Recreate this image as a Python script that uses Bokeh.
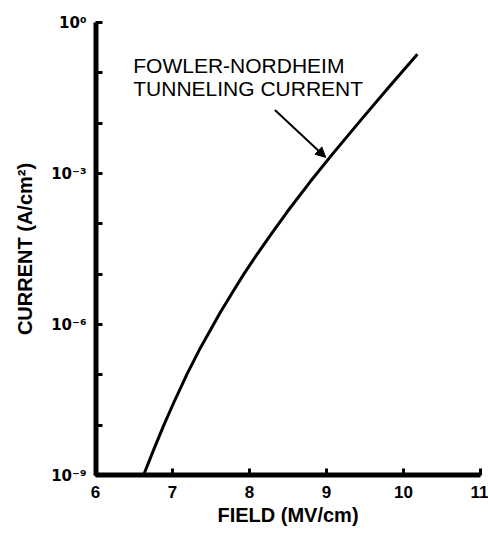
from bokeh.plotting import figure
from bokeh.models import FixedTicker, CustomJSTickFormatter, Arrow, NormalHead, Label
from bokeh.embed import file_html
from bokeh.resources import INLINE

# Fowler-Nordheim tunneling current
field_mv_cm = [6.63, 6.76, 6.89, 7.02, 7.19, 7.36, 7.62, 7.80, 7.93, 8.10,
               8.27, 8.49, 8.79, 9.08, 9.44, 9.80, 10.18]
log10_current = [-8.97, -8.47, -7.99, -7.54, -6.98, -6.47, -5.76, -5.31, -4.99, -4.60,
                 -4.23, -3.76, -3.16, -2.61, -1.95, -1.30, -0.63]
current_a_cm2 = [10 ** e for e in log10_current]

x_ticks = [6, 7, 8, 9, 10, 11]
x_tick_labels = ["6", "7", "8", "9", "10", "11"]
y_ticks = [1e-9, 1e-8, 1e-7, 1e-6, 1e-5, 1e-4, 1e-3, 1e-2, 1e-1, 1e0]
y_tick_labels = ["10\u207b\u2079", "", "", "10\u207b\u2076", "", "",
                 "10\u207b\u00b3", "", "", "10\u2070"]

annotation_lines = ["FOWLER-NORDHEIM", "TUNNELING CURRENT"]

FONT = "Liberation Sans"
X_MIN, X_MAX = 6, 11
Y_MIN, Y_MAX = 1e-9, 1e0

p = figure(width=488, height=542, x_range=(X_MIN, X_MAX), y_range=(Y_MIN, Y_MAX),
           y_axis_type="log", output_backend="svg", toolbar_location=None,
           min_border_left=95, min_border_right=8, min_border_top=22,
           min_border_bottom=67)
p.outline_line_color = None
p.xgrid.visible = False
p.ygrid.visible = False
p.background_fill_color = None
p.border_fill_color = "white"

# heavy axis lines along the left and bottom frame edges
p.segment(x0=[X_MIN, X_MIN], y0=[Y_MIN, Y_MIN], x1=[X_MIN, X_MAX], y1=[Y_MAX, Y_MIN],
          line_color="black", line_width=6)

p.line(field_mv_cm, current_a_cm2, line_color="black", line_width=3,
       line_join="round")

# axes
p.xaxis.ticker = FixedTicker(ticks=x_ticks, minor_ticks=[])
p.xaxis.major_label_overrides = {t: l for t, l in zip(x_ticks, x_tick_labels)}
p.yaxis.ticker = FixedTicker(ticks=y_ticks, minor_ticks=[])
p.yaxis.formatter = CustomJSTickFormatter(
    args=dict(tick_vals=y_ticks, tick_labels=y_tick_labels),
    code="""
    const e = Math.log10(tick);
    for (let i = 0; i < tick_vals.length; i++) {
        if (Math.abs(Math.log10(tick_vals[i]) - e) < 1e-6) return tick_labels[i];
    }
    return "";
    """)

p.axis.axis_line_width = 4
p.axis.axis_line_color = "black"
p.axis.major_tick_line_width = 3
p.axis.major_tick_line_color = "black"
p.axis.major_tick_in = 7
p.axis.major_tick_out = 0
p.axis.minor_tick_line_color = None
p.axis.major_label_text_font = FONT
p.axis.major_label_text_font_style = "bold"
p.axis.major_label_text_color = "black"
p.axis.axis_label_text_font = FONT
p.axis.axis_label_text_font_style = "bold"
p.axis.axis_label_text_color = "black"

p.yaxis.major_label_text_font = "DejaVu Sans"
p.xaxis.axis_label = "FIELD (MV/cm)"
p.yaxis.axis_label = "CURRENT (A/cm\u00b2)"
p.xaxis.major_label_text_font_size = "17px"
p.yaxis.major_label_text_font_size = "15px"
p.xaxis.axis_label_text_font_size = "20px"
p.yaxis.axis_label_text_font_size = "20px"
p.xaxis.major_label_standoff = 10
p.yaxis.major_label_standoff = 9
p.xaxis.axis_label_standoff = 3
p.yaxis.axis_label_standoff = 12

# annotation text
p.add_layout(Label(x=6.49, y=10 ** -0.85, text=annotation_lines[0],
                   text_font=FONT, text_font_size="21px", text_color="black",
                   text_baseline="alphabetic"))
p.add_layout(Label(x=6.49, y=10 ** -1.31, text=annotation_lines[1],
                   text_font=FONT, text_font_size="21px", text_color="black",
                   text_baseline="alphabetic"))

# arrow pointing at the curve
p.add_layout(Arrow(x_start=8.33, y_start=10 ** -1.74, x_end=8.99, y_end=10 ** -2.68,
                   line_color="black", line_width=2,
                   end=NormalHead(size=10, fill_color="black", line_color="black")))

open("out.html", "w").write(file_html(p, INLINE))
